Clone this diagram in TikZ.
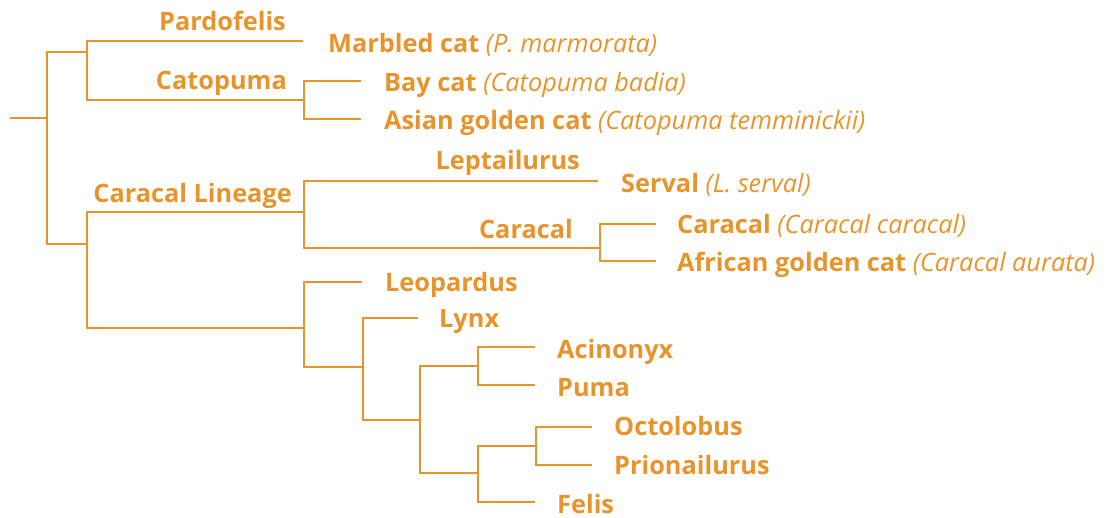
\documentclass[tikz,border=0pt]{standalone}
\usepackage{fontspec}
\setmainfont{Open Sans}
\definecolor{cat}{RGB}{232,148,44}
\begin{document}
\begin{tikzpicture}[x=1pt,y=-1pt,
  br/.style={draw=cat,line width=2.2pt},
  lab/.style={inner sep=0pt,text=cat,font=\fontsize{25.3}{30}\selectfont\bfseries},
  labL/.style={lab,anchor=base west},
  labR/.style={lab,anchor=base east}]
\useasboundingbox (0,0) rectangle (1117,518);
% coordinates
\coordinate (rstub) at (10,118);
\coordinate (r) at (47,118);
\coordinate (A) at (87,52);
\coordinate (B) at (87,244);
\coordinate (pt) at (303,41);
\coordinate (cn) at (304,100);
\coordinate (bayt) at (361,81);
\coordinate (asiant) at (361,119);
\coordinate (L) at (304,212);
\coordinate (F) at (304,328);
\coordinate (lept) at (598,181);
\coordinate (car) at (600,248);
\coordinate (cart) at (656,224);
\coordinate (agct) at (656,261);
\coordinate (leot) at (362,282);
\coordinate (lyn) at (363,367);
\coordinate (lynt) at (418,318);
\coordinate (n1) at (420,420);
\coordinate (ap) at (478,366);
\coordinate (n2) at (478,473);
\coordinate (acit) at (535,347);
\coordinate (pumt) at (535,385);
\coordinate (op) at (536,446);
\coordinate (felt) at (535,502);
\coordinate (octt) at (592,427);
\coordinate (prit) at (592,465);
% branches
\draw[br] (rstub) -- (r);
\draw[br] (A) -| (r) |- (B);
\draw[br] (pt) -| (A) |- (cn);
\draw[br] (bayt) -| (cn) |- (asiant);
\draw[br] (L) -| (B) |- (F);
\draw[br] (lept) -| (L) |- (car);
\draw[br] (cart) -| (car) |- (agct);
\draw[br] (leot) -| (F) |- (lyn);
\draw[br] (lynt) -| (lyn) |- (n1);
\draw[br] (ap) -| (n1) |- (n2);
\draw[br] (acit) -| (ap) |- (pumt);
\draw[br] (op) -| (n2) |- (felt);
\draw[br] (octt) -| (op) |- (prit);
% labels
\node[labR] (pardo) at (286,30.5) {Pardofelis};
\node[labR] (catop) at (287,89.3) {Catopuma};
\node[labR] (carlin) at (292,202.7) {Caracal Lineage};
\node[labR] (lepta) at (580,169.3) {Leptailurus};
\node[labR] (carg) at (573,238.7) {Caracal};
\node[labL] (marb) at (328,52.7) {Marbled cat \normalfont\itshape(P. marmorata)};
\node[labL] (bay) at (384,91.3) {Bay cat \normalfont\itshape(Catopuma badia)};
\node[labL] (asian) at (384,130) {Asian golden cat \normalfont\itshape(Catopuma temminickii)};
\node[labL] (serv) at (621,192.7) {Serval \normalfont\itshape(L. serval)};
\node[labL] (carc) at (677,233.3) {Caracal \normalfont\itshape(Caracal caracal)};
\node[labL] (afr) at (677,271.7) {African golden cat \normalfont\itshape(Caracal aurata)};
\node[labL] (leop) at (385,291.7) {Leopardus};
\node[labL] (lynx) at (439,327.7) {Lynx};
\node[labL] (acin) at (557,358.3) {Acinonyx};
\node[labL] (puma) at (557,396.7) {Puma};
\node[labL] (octo) at (614,435.7) {Octolobus};
\node[labL] (prio) at (614,475) {Prionailurus};
\node[labL] (feli) at (557,514) {Felis};
\end{tikzpicture}
\end{document}
